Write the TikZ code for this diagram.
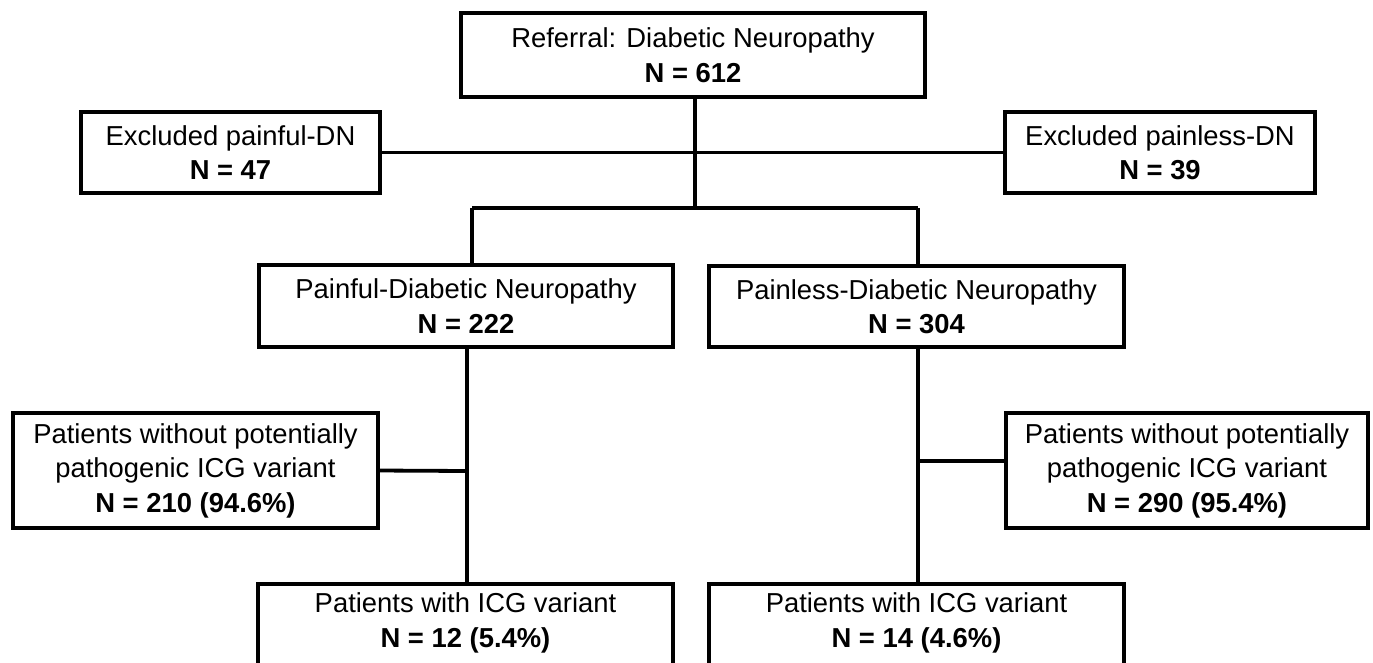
\documentclass[tikz,border=0pt]{standalone}
\usepackage{fontspec}
\setmainfont{Liberation Sans}
\begin{document}
\begin{tikzpicture}[x=1pt,y=-1pt,
  line width=3.8pt,
  box/.style={draw=black, rectangle, align=center, inner sep=0pt, outer sep=0pt,
    line width=3.6pt, font=\fontsize{27.4}{34.5}\selectfont},
  link/.style={draw=black, line width=3.8pt}]
\useasboundingbox (0,0) rectangle (1373,662);
\fill[white] (0,0) rectangle (1373,662);
\clip (0,0) rectangle (1373,662);

\node[box, minimum width=464pt, minimum height=84pt] (top) at (693,55)
  {Referral: Diabetic Neuropathy\\\textbf{N = 612}};
\node[box, minimum width=299pt, minimum height=81pt] (exL) at (230.5,152.5)
  {Excluded painful-DN\\\textbf{N = 47}};
\node[box, minimum width=310pt, minimum height=81pt] (exR) at (1160,152.5)
  {Excluded painless-DN\\\textbf{N = 39}};
\node[box, minimum width=414pt, minimum height=82pt] (pdn) at (466,306)
  {Painful-Diabetic Neuropathy\\\textbf{N = 222}};
\node[box, minimum width=415pt, minimum height=81pt] (pless) at (916.5,306.5)
  {Painless-Diabetic Neuropathy\\\textbf{N = 304}};
\node[box, minimum width=365pt, minimum height=115pt] (woL) at (195.5,470.5)
  {Patients without potentially\\pathogenic ICG variant\\\textbf{N = 210 (94.6\%)}};
\node[box, minimum width=362pt, minimum height=115pt] (woR) at (1187,470.5)
  {Patients without potentially\\pathogenic ICG variant\\\textbf{N = 290 (95.4\%)}};
\node[box, minimum width=415pt, anchor=north, inner ysep=9pt] (wL) at (465.5,584)
  {Patients with ICG variant\\\textbf{N = 12 (5.4\%)}\rule[-16pt]{0pt}{16pt}};
\node[box, minimum width=415pt, anchor=north, inner ysep=9pt] (wR) at (916.5,584)
  {Patients with ICG variant\\\textbf{N = 14 (4.6\%)}\rule[-16pt]{0pt}{16pt}};

\coordinate (tr) at (695,208);
\coordinate (bL) at (472,208);
\coordinate (vR) at (918,208);
\coordinate (vL) at (467,471);
\coordinate (cR) at (918,461);

\draw[link] (top.south -| tr) -- (tr);
\draw[link] (exL.east) -- (exR.west);
\draw[link] (bL) -- (vR);
\draw[link] (bL) -- (bL |- pdn.north);
\draw[link] (vR) -- (vR |- pless.north);
\draw[link] (vL |- pdn.south) -- (vL |- wL.north);
\draw[link] (woL.east) -- (vL);
\draw[link] (vR |- pless.south) -- (vR |- wR.north);
\draw[link] (cR) -- (cR -| woR.west);
\end{tikzpicture}
\end{document}
